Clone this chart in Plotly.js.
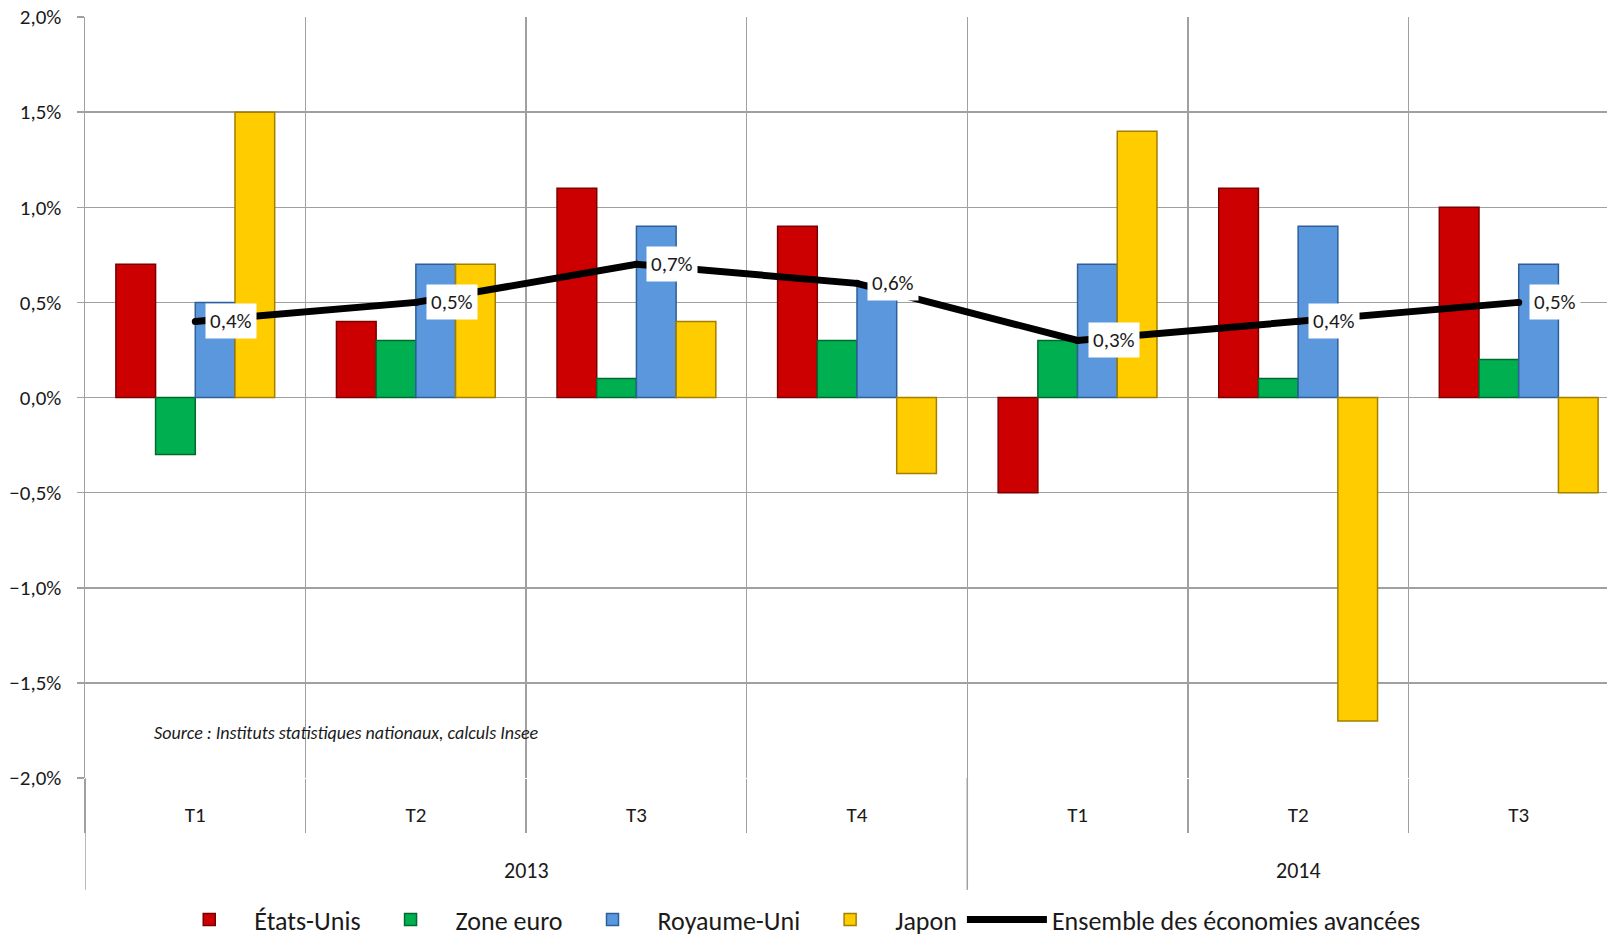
<!DOCTYPE html>
<html><head><meta charset="utf-8">
<script src="https://cdn.plot.ly/plotly-3.0.1.min.js"></script>
<style>html,body{margin:0;padding:0;overflow:hidden;background:#fff}#chart{width:1640px;height:936px}</style>
</head><body><div id="chart"></div>
<script>
// ---- data ----
const quarters = ['T1','T2','T3','T4','T1','T2','T3'];
const yearOfQuarter = ['2013','2013','2013','2013','2014','2014','2014'];
const years = ['2013','2014'];
const etatsUnis  = [0.7, 0.4, 1.1, 0.9, -0.5, 1.1, 1.0];
const zoneEuro   = [-0.3, 0.3, 0.1, 0.3, 0.3, 0.1, 0.2];
const royaumeUni = [0.5, 0.7, 0.9, 0.6, 0.7, 0.9, 0.7];
const japon      = [1.5, 0.7, 0.4, -0.4, 1.4, -1.7, -0.5];
const ensemble   = [0.4, 0.5, 0.7, 0.6, 0.3, 0.4, 0.5];
const seriesNames = ['États-Unis','Zone euro','Royaume-Uni','Japon','Ensemble des économies avancées'];
const sourceText = 'Source : Instituts statistiques nationaux, calculs Insee';

// ---- build ----
const FONT = 'Carlito, Lato, "Open Sans", sans-serif';
const TXT = '#1a1a1a';
const xi = quarters.map((q,i)=>i);
const bounds = [-0.5].concat(xi.map(i=>i+0.5));
const yearIdx = years.map(y => xi.filter(i => yearOfQuarter[i]===y));
const yearCenters = yearIdx.map(a => (a[0]+a[a.length-1])/2);
const yearBounds = [-0.5].concat(yearIdx.map(a => a[a.length-1]+0.5));

function bar(name, y, color, edge){
  return {type:'bar', name, x: xi, y, marker:{color, line:{color:edge, width:1.5}}, hoverinfo:'y'};
}
const traces = [
  bar(seriesNames[0], etatsUnis, '#CC0000', '#7a0000'),
  bar(seriesNames[1], zoneEuro, '#00B050', '#006a2e'),
  bar(seriesNames[2], royaumeUni, '#5B97DD', '#2f5f99'),
  bar(seriesNames[3], japon, '#FFCC00', '#a37f00'),
  {type:'scatter', mode:'lines+markers', name: seriesNames[4], x: xi, y: ensemble,
   line:{color:'#000', width:7}, marker:{color:'#000', size:7}}
];

const fmt = v => v.toFixed(1).replace('.',',') + '%';
const annotations = ensemble.map((v,i)=>({
  x: i, y: v, xref:'x', yref:'y', text: fmt(v), showarrow:false,
  xanchor:'left', yanchor:'middle', xshift: 10, bgcolor:'#fff', borderpad:4,
  font:{family:FONT, size:21, color:TXT}
}));
years.forEach((y,k)=>annotations.push({
  x: yearCenters[k], y: -0.121, xref:'x', yref:'paper', text: y, showarrow:false,
  xanchor:'center', yanchor:'middle', font:{family:FONT, size:22, color:TXT}
}));
annotations.push({
  x: 0.0434, y: 0.059, xref:'paper', yref:'paper', text: '<i>'+sourceText+'</i>', showarrow:false,
  xanchor:'left', yanchor:'middle', font:{family:FONT, size:18, color:TXT}
});

const shapes = yearBounds.map(b => ({
  type:'line', xref:'x', yref:'paper', x0:b, x1:b, y0:0, y1:-0.147,
  line:{color:'#a0a0a0', width:1.5}
}));

const layout = {
  width:1640, height:936,
  margin:{l:85, r:11, t:17, b:158, autoexpand:false},
  paper_bgcolor:'#fff', plot_bgcolor:'#fff',
  separators:', ',
  barmode:'group', bargap:0.28, bargroupgap:0,
  showlegend:true,
  legend:{orientation:'h', x:0.46, xanchor:'center', y:-0.186, yanchor:'middle', itemwidth:80,
          font:{family:FONT, size:26, color:TXT}, traceorder:'normal', bgcolor:'rgba(0,0,0,0)'},
  font:{family:FONT, color:TXT},
  xaxis:{type:'linear', range:[-0.5, 6.5], tickmode:'array', tickvals: xi, ticktext: quarters,
         ticks:'', showgrid:false, zeroline:false, showline:false, ticklabelstandoff: 22,
         tickfont:{family:FONT, size:21, color:TXT},
         minor:{tickmode:'array', tickvals: bounds, showgrid:true, gridcolor:'#a0a0a0', gridwidth:1.5,
                ticks:'outside', ticklen:54, tickcolor:'#a0a0a0', tickwidth:1.5}},
  yaxis:{range:[-2, 2], tickmode:'linear', tick0:0, dtick:0.5, tickformat:'.1f', ticksuffix:'%',
         showgrid:true, gridcolor:'#a0a0a0', gridwidth:1.5, zeroline:false,
         showline:true, linecolor:'#a0a0a0', linewidth:1.5,
         ticks:'outside', ticklen:7, tickcolor:'#a0a0a0', tickwidth:1.5, ticklabelstandoff: 11,
         tickfont:{family:FONT, size:21, color:TXT}},
  annotations, shapes
};
Plotly.newPlot('chart', traces, layout, {displayModeBar:false, staticPlot:true});
</script></body></html>
